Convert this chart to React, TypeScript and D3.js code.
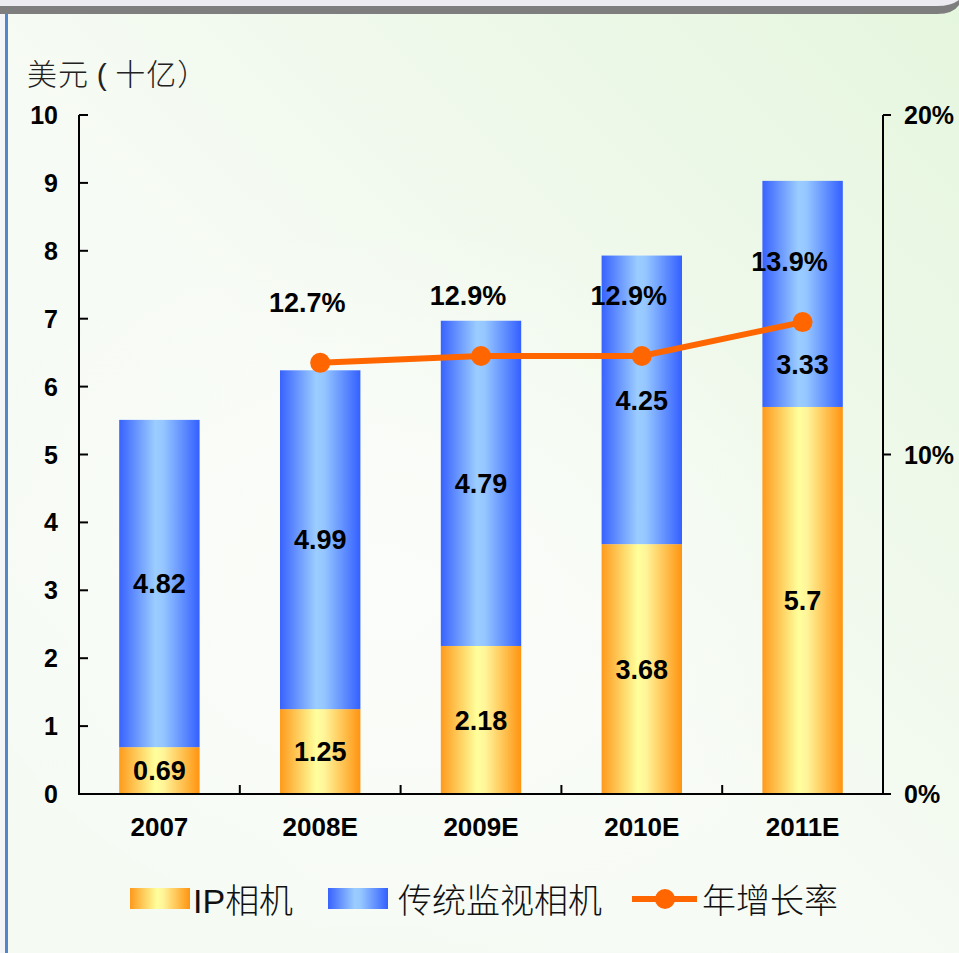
import * as d3 from "d3"

const years = ["2007", "2008E", "2009E", "2010E", "2011E"]
const ipCamera = [0.69, 1.25, 2.18, 3.68, 5.7]
const analogCamera = [4.82, 4.99, 4.79, 4.25, 3.33]
const growth: (number | null)[] = [null, 12.7, 12.9, 12.9, 13.9]
const leftTicks = [0, 1, 2, 3, 4, 5, 6, 7, 8, 9, 10]
const rightTicks = [0, 10, 20]

const W = 959
const H = 953
const plot = { left: 79, right: 883, top: 115, bottom: 794 }
const numFont = "'Liberation Sans', Arial, sans-serif"
const cjkFont = "'Noto Sans CJK SC', sans-serif"

export default function App() {
  const x = d3.scaleBand<string>().domain(years).range([plot.left, plot.right]).paddingInner(0.5).paddingOuter(0.25)
  const y = d3.scaleLinear().domain([0, 10]).range([plot.bottom, plot.top])
  const yR = d3.scaleLinear().domain([0, 20]).range([plot.bottom, plot.top])
  const cx = (yr: string) => (x(yr) as number) + x.bandwidth() / 2

  const pts = years
    .map((yr, i) => ({ yr, g: growth[i] }))
    .filter((d) => d.g !== null) as { yr: string; g: number }[]
  const line = d3
    .line<{ yr: string; g: number }>()
    .x((d) => cx(d.yr))
    .y((d) => yR(d.g))

  const seps = d3.range(1, years.length).map((i) => plot.left + i * x.step())

  return (
    <div style={{ position: "absolute", left: 0, top: 0 }}>
      <svg width={W} height={H} style={{ display: "block" }}>
        <defs>
          <linearGradient id="bg" x1="0" y1="1" x2="1" y2="0">
            <stop offset="0" stopColor="#f5faf3" />
            <stop offset="0.45" stopColor="#f7fbf5" />
            <stop offset="1" stopColor="#e5f6de" />
          </linearGradient>
          <radialGradient id="glow" cx="0.45" cy="0.55" r="0.5">
            <stop offset="0" stopColor="#fbfdfa" stopOpacity="0.9" />
            <stop offset="1" stopColor="#fbfdfa" stopOpacity="0" />
          </radialGradient>
          <linearGradient id="ipGrad" x1="0" y1="0" x2="1" y2="0">
            <stop offset="0" stopColor="#ff9a1c" />
            <stop offset="0.45" stopColor="#ffff9c" />
            <stop offset="0.55" stopColor="#fff59a" />
            <stop offset="1" stopColor="#ff9410" />
          </linearGradient>
          <linearGradient id="blueGrad" x1="0" y1="0" x2="1" y2="0">
            <stop offset="0" stopColor="#3862ff" />
            <stop offset="0.45" stopColor="#9ccdff" />
            <stop offset="0.55" stopColor="#95c6ff" />
            <stop offset="1" stopColor="#3460ff" />
          </linearGradient>
        </defs>

        {/* background and frame */}
        <rect x={0} y={0} width={W} height={H} fill="url(#bg)" />
        <ellipse cx={430} cy={560} rx={480} ry={380} fill="url(#glow)" />
        <rect x={0} y={0} width={W} height={7} fill="#ebebf1" />
        <path d={`M0,6 H${W - 22} Q${W - 8},6 ${W},0 V5 Q${W - 6},14 ${W - 22},14 H0 Z`} fill="#7e7e7e" />
        <rect x={0} y={14} width={5} height={H - 14} fill="#f3f5f7" />
        <rect x={5} y={14} width={3} height={H - 14} fill="#5288c8" />

        {/* y title */}
        <text x={27} y={85} fontFamily={cjkFont} fontWeight={300} fontSize={30} letterSpacing={1} fill="#222">
          美元 <tspan fontFamily={numFont}>(</tspan> 十亿）
        </text>

        {/* stacked bars */}
        {years.map((yr, i) => {
          const x0 = x(yr) as number
          const bw = x.bandwidth()
          const ipTop = y(ipCamera[i])
          const total = y(ipCamera[i] + analogCamera[i])
          return (
            <g key={yr}>
              <rect x={x0} y={ipTop} width={bw} height={plot.bottom - ipTop} fill="url(#ipGrad)" />
              <rect x={x0} y={total} width={bw} height={ipTop - total} fill="url(#blueGrad)" />
            </g>
          )
        })}

        {/* segment labels */}
        {years.map((yr, i) => {
          const ipTop = y(ipCamera[i])
          const total = y(ipCamera[i] + analogCamera[i])
          let blueY = (ipTop + total) / 2
          const g = growth[i]
          if (g !== null && Math.abs(yR(g) - blueY) < 30) blueY = (yR(g) + ipTop) / 2
          return (
            <g key={yr} fontFamily={numFont} fontWeight="bold" fontSize={27} textAnchor="middle" fill="#000">
              <text x={cx(yr)} y={(plot.bottom + ipTop) / 2} dy="0.36em">
                {ipCamera[i]}
              </text>
              <text x={cx(yr)} y={blueY} dy="0.36em">
                {analogCamera[i]}
              </text>
            </g>
          )
        })}

        {/* growth line */}
        <path d={line(pts) as string} fill="none" stroke="#ff6600" strokeWidth={6} />
        {pts.map((d) => (
          <circle key={d.yr} cx={cx(d.yr)} cy={yR(d.g)} r={10} fill="#ff6600" />
        ))}
        {pts.map((d) => (
          <text
            key={d.yr}
            x={cx(d.yr) - 13}
            y={yR(d.g) - 51}
            textAnchor="middle"
            fontFamily={numFont}
            fontWeight="bold"
            fontSize={27}
            fill="#000"
          >
            {d.g.toFixed(1)}%
          </text>
        ))}

        {/* axes */}
        <g stroke="#000" strokeWidth={2} fill="none">
          <line x1={plot.left} x2={plot.left} y1={plot.top} y2={plot.bottom + 1} />
          <line x1={plot.right} x2={plot.right} y1={plot.top} y2={plot.bottom + 1} />
          <line x1={plot.left} x2={plot.right + 8} y1={plot.bottom} y2={plot.bottom} />
          {leftTicks.map((t) => (
            <line key={t} x1={plot.left} x2={plot.left + 9} y1={y(t)} y2={y(t)} />
          ))}
          {rightTicks.map((t) => (
            <line key={t} x1={plot.right} x2={plot.right + 8} y1={yR(t)} y2={yR(t)} />
          ))}
          {seps.map((s) => (
            <line key={s} x1={s} x2={s} y1={plot.bottom} y2={plot.bottom - 9} />
          ))}
        </g>
        <g fontFamily={numFont} fontWeight="bold" fontSize={25} fill="#000">
          {leftTicks.map((t) => (
            <text key={t} x={58} y={y(t)} dy="0.36em" textAnchor="end">
              {t}
            </text>
          ))}
          {rightTicks.map((t) => (
            <text key={t} x={904} y={yR(t)} dy="0.36em">
              {t}%
            </text>
          ))}
          {years.map((yr) => (
            <text key={yr} x={cx(yr)} y={836} textAnchor="middle" fontSize={26}>
              {yr}
            </text>
          ))}
        </g>

        {/* legend */}
        <g fontFamily={cjkFont} fontWeight={300} fontSize={34} fill="#111">
          <rect x={130} y={888} width={60} height={21} fill="url(#ipGrad)" />
          <text x={193} y={913}>
            <tspan fontFamily={numFont}>IP</tspan>相机
          </text>
          <rect x={328} y={888} width={60} height={21} fill="url(#blueGrad)" />
          <text x={398} y={913}>传统监视相机</text>
          <line x1={632} x2={697} y1={899} y2={899} stroke="#ff6600" strokeWidth={6} />
          <circle cx={665} cy={899} r={10} fill="#ff6600" />
          <text x={702} y={913}>年增长率</text>
        </g>
      </svg>
    </div>
  )
}
